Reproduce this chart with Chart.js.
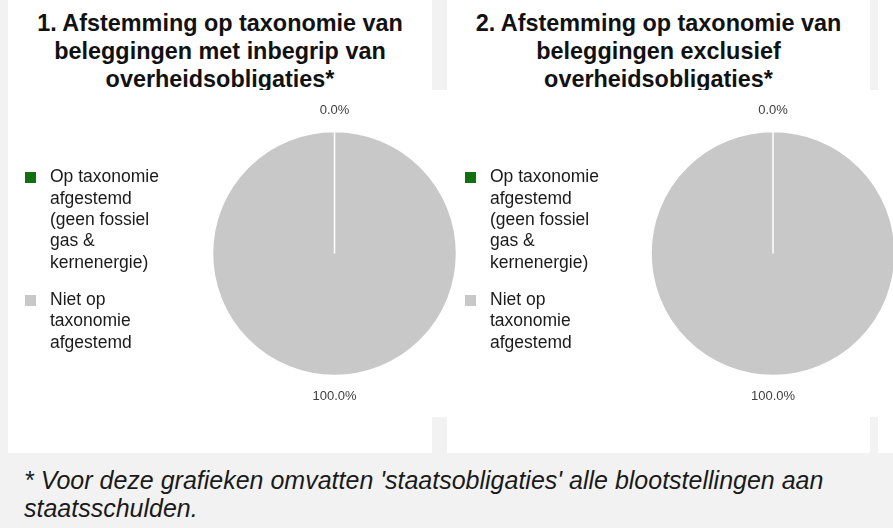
<!DOCTYPE html>
<html><head><meta charset="utf-8">
<script src="https://cdn.jsdelivr.net/npm/chart.js@4"></script>
<style>
html,body{margin:0;padding:0;width:893px;height:528px;overflow:hidden;background:#f2f2f2;}
#stage{position:relative;width:893px;height:528px;overflow:hidden;background:#f2f2f2;}
.panel{position:absolute;top:0;height:453px;background:#fff;}
.title{position:absolute;top:0;padding-top:10.3px;text-align:center;font-family:"Liberation Sans",Arial,sans-serif;font-weight:bold;font-size:23.4px;line-height:27.7px;color:#111;white-space:nowrap;}
.plotbg{position:absolute;left:8px;top:90px;width:885px;height:327px;background:#fff;}
canvas{position:absolute;top:90px;}
.note{position:absolute;left:24px;top:466px;font-family:"Liberation Sans",Arial,sans-serif;font-style:italic;font-size:25px;line-height:28px;color:#1a1a1a;white-space:nowrap;}
</style></head>
<body><div id="stage">
<div class="panel" style="left:8px;width:424px"></div>
<div class="panel" style="left:447px;width:423px"></div>
<div class="panel" style="left:878px;width:15px"></div>
<div class="title" style="left:8px;width:424px">1. Afstemming op taxonomie van<br>beleggingen met inbegrip van<br>overheidsobligaties*</div>
<div class="title" style="left:447px;width:423px">2. Afstemming op taxonomie van<br>beleggingen exclusief<br>overheidsobligaties*</div>
<div class="plotbg"></div>
<canvas id="c1" width="540" height="327" style="left:0px"></canvas>
<canvas id="c2" width="540" height="327" style="left:440px"></canvas>
<div class="note">* Voor deze grafieken omvatten 'staatsobligaties' alle blootstellingen aan<br>staatsschulden.</div>
</div>
<script>
const CATEGORIES = [
  ["Op taxonomie", "afgestemd", "(geen fossiel", "gas &", "kernenergie)"],
  ["Niet op", "taxonomie", "afgestemd"]
];
const SERIES_INCL_GOV = [0.0, 100.0];
const SERIES_EXCL_GOV = [0.0, 100.0];
const COLORS = ['#107010', '#c8c8c8'];

function squareMarker(color) {
  const c = document.createElement('canvas');
  c.width = 11; c.height = 11;
  const g = c.getContext('2d');
  g.fillStyle = color; g.fillRect(0, 0, 11, 11);
  return c;
}
const MARKERS = COLORS.map(squareMarker);

const outLabels = {
  id: 'outLabels',
  afterDatasetsDraw(chart) {
    const ctx = chart.ctx;
    const meta = chart.getDatasetMeta(0);
    const vals = chart.data.datasets[0].data;
    ctx.save();
    ctx.font = '13px "Liberation Sans", Arial, sans-serif';
    ctx.fillStyle = '#404040';
    ctx.textAlign = 'center';
    ctx.textBaseline = 'middle';
    meta.data.forEach((arc, i) => {
      const p = arc.getProps(['x', 'y', 'startAngle', 'endAngle', 'outerRadius'], true);
      const a = (p.startAngle + p.endAngle) / 2;
      const r = p.outerRadius + 21;
      ctx.fillText(vals[i].toFixed(1) + '%', p.x + Math.cos(a) * r, p.y + Math.sin(a) * r);
    });
    ctx.restore();
  }
};

function makeChart(id, values, centerX) {
  const canvas = document.getElementById(id);
  const chart = new Chart(canvas, {
    type: 'pie',
    data: {
      labels: CATEGORIES,
      datasets: [{
        data: values,
        backgroundColor: COLORS,
        borderColor: '#ffffff',
        borderWidth: 1.5,
        radius: 122
      }]
    },
    options: {
      responsive: false,
      animation: false,
      devicePixelRatio: 1,
      events: [],
      layout: { padding: { left: 3.75, right: 0, top: 0, bottom: 0 } },
      plugins: {
        tooltip: { enabled: false },
        legend: {
          position: 'left',
          align: 'center',
          title: { display: true, text: ' ', padding: 0, font: { size: 10, lineHeight: '17.3px' } },
          labels: {
            usePointStyle: true,
            pointStyleWidth: 21.5,
            boxHeight: 11,
            padding: 16,
            color: '#1a1a1a',
            font: { family: '"Liberation Sans", Arial, sans-serif', size: 17.5, lineHeight: 1.22 },
            generateLabels(ch) {
              return ch.data.labels.map((t, i) => ({
                text: t, fillStyle: COLORS[i], strokeStyle: COLORS[i], lineWidth: 0,
                pointStyle: MARKERS[i], fontColor: '#1a1a1a', hidden: false, index: i
              }));
            }
          }
        }
      }
    },
    plugins: [outLabels]
  });
  const ca = chart.chartArea;
  chart.options.layout.padding.right = canvas.width - (2 * centerX - ca.left);
  chart.update();
  return chart;
}

makeChart('c1', SERIES_INCL_GOV, 334.5);
makeChart('c2', SERIES_EXCL_GOV, 333);
</script>
</body></html>
